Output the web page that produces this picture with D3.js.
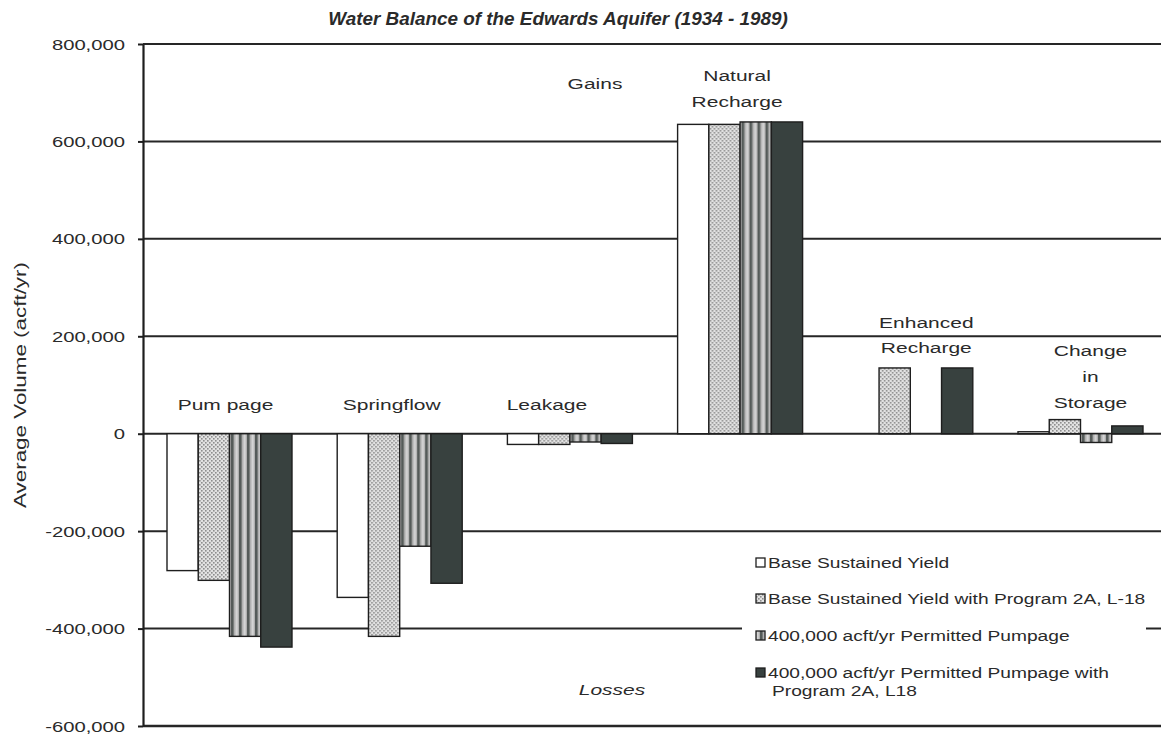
<!DOCTYPE html>
<html>
<head>
<meta charset="utf-8">
<script src="https://cdn.jsdelivr.net/npm/d3@7"></script>
<style>
  html, body { margin: 0; padding: 0; background: #ffffff; }
  svg { display: block; }
  text { font-family: "Liberation Sans", Arial, sans-serif; fill: #2a2a2a; }
</style>
</head>
<body>
<svg id="chart" width="1161" height="742"></svg>
<script>
// ---------------- DATA ----------------
const categories = ["Pumpage", "Springflow", "Leakage", "Natural Recharge", "Enhanced Recharge", "Change in Storage"];
const categoryLabels = [["Pum page"], ["Springflow"], ["Leakage"], ["Natural", "Recharge"], ["Enhanced", "Recharge"], ["Change", "in", "Storage"]];
const seriesNames = [
  "Base Sustained Yield",
  "Base Sustained Yield with Program 2A, L-18",
  "400,000 acft/yr Permitted Pumpage",
  "400,000 acft/yr Permitted Pumpage with Program 2A, L18"
];
const legendLines = [
  ["Base Sustained Yield"],
  ["Base Sustained Yield with Program 2A, L-18"],
  ["400,000 acft/yr Permitted Pumpage"],
  ["400,000 acft/yr Permitted Pumpage with", "Program 2A, L18"]
];
const baseSustainedYield      = [-281000, -336000, -22000, 635000,      0,   4000];
const baseWithProgram         = [-301000, -416000, -22000, 635000, 135000,  29000];
const permitted400k           = [-416000, -231000, -17000, 640000,      0, -18000];
const permitted400kWithProgram= [-438000, -307000, -20000, 640000, 135000,  16000];
const seriesValues = [baseSustainedYield, baseWithProgram, permitted400k, permitted400kWithProgram];
const yTicks = [-600000, -400000, -200000, 0, 200000, 400000, 600000, 800000];
const title = "Water Balance of the Edwards Aquifer (1934 - 1989)";
const yTitle = "Average Volume (acft/yr)";
const sideNotes = ["Gains", "Losses"];

// ---------------- LAYOUT ----------------
const svg = d3.select("#chart");
const plot = { left: 143, right: 1167, top: 44, bottom: 726 };
const SX = 1.4; // horizontal text stretch

const x0 = d3.scaleBand().domain(categories).range([plot.left, plot.right]).paddingInner(0.2656).paddingOuter(0.141);
const x1 = d3.scaleBand().domain(d3.range(seriesNames.length)).range([0, x0.bandwidth()]).padding(0);
const y = d3.scaleLinear().domain([-600000, 800000]).range([plot.bottom, plot.top]);

// patterns
const defs = svg.append("defs");
const pDots = defs.append("pattern").attr("id", "pat-dots").attr("patternUnits", "userSpaceOnUse").attr("width", 4).attr("height", 4);
pDots.append("rect").attr("width", 4).attr("height", 4).attr("fill", "#e2e2e2");
pDots.append("rect").attr("x", 0).attr("y", 0).attr("width", 1.6).attr("height", 1.6).attr("fill", "#8e8e8e");
pDots.append("rect").attr("x", 2).attr("y", 2).attr("width", 1.6).attr("height", 1.6).attr("fill", "#8e8e8e");
const pStr = defs.append("pattern").attr("id", "pat-stripes").attr("patternUnits", "userSpaceOnUse").attr("width", 8).attr("height", 8);
pStr.append("rect").attr("width", 8).attr("height", 8).attr("fill", "#b0b0b0");
pStr.append("rect").attr("x", 0).attr("width", 2.6).attr("height", 8).attr("fill", "#555b59");
pStr.append("rect").attr("x", 4.5).attr("width", 2.2).attr("height", 8).attr("fill", "#d4d4d4");

const fills = ["#ffffff", "url(#pat-dots)", "url(#pat-stripes)", "#38413f"];

function stretched(sel, x, yy, sx) {
  return sel.attr("x", 0).attr("y", 0).attr("transform", `translate(${x},${yy}) scale(${sx},1)`);
}

// gridlines
svg.append("g").selectAll("line").data(yTicks).join("line")
  .attr("x1", plot.left).attr("x2", plot.right)
  .attr("y1", d => y(d)).attr("y2", d => y(d))
  .attr("stroke", "#262626").attr("stroke-width", d => (d === -600000 ? 2.6 : 2));

// y axis
const fmt = d3.format(",");
const yAxis = svg.append("g").attr("transform", `translate(${plot.left},0)`)
  .call(d3.axisLeft(y).tickValues(yTicks).tickFormat(d => fmt(d).replace("\u2212", "-")).tickSize(5).tickSizeOuter(0));
yAxis.select(".domain").attr("stroke", "#1e1e1e").attr("stroke-width", 2.2);
yAxis.selectAll(".tick line").attr("stroke", "#1e1e1e").attr("stroke-width", 2);
yAxis.selectAll(".tick text").each(function () {
  const t = d3.select(this);
  t.attr("x", null).attr("dy", null).attr("fill", "#262626")
   .style("font-size", "15px").style("font-family", '"Liberation Sans", Arial, sans-serif')
   .attr("text-anchor", "end").attr("transform", `translate(-18,5) scale(1.35,1)`);
});

// bars
const groups = svg.append("g").selectAll("g").data(categories).join("g")
  .attr("transform", d => `translate(${x0(d)},0)`);
groups.selectAll("rect").data((c, ci) => seriesValues.map((vals, si) => ({ si, v: vals[ci] })).filter(d => d.v !== 0))
  .join("rect")
  .attr("x", d => x1(d.si))
  .attr("width", x1.bandwidth())
  .attr("y", d => Math.min(y(d.v), y(0)))
  .attr("height", d => Math.abs(y(d.v) - y(0)))
  .attr("fill", d => fills[d.si])
  .attr("stroke", "#1e1e1e").attr("stroke-width", 1.4);

// category labels
const labelPos = [
  { dx: -4, ys: [405] },
  { dx: -8, ys: [405] },
  { dx: -23, ys: [405] },
  { dx: -3, ys: [76, 102] },
  { dx: 16, ys: [323, 348] },
  { dx: 10, ys: [351, 377, 403] }
];
categories.forEach((c, i) => {
  const cx = x0(c) + x0.bandwidth() / 2 + labelPos[i].dx;
  categoryLabels[i].forEach((line, li) => {
    stretched(svg.append("text"), cx, labelPos[i].ys[li] + 5, SX)
      .attr("text-anchor", "middle").style("font-size", "15px").text(line);
  });
});

// gains / losses
stretched(svg.append("text"), 595, 89, SX).attr("text-anchor", "middle").style("font-size", "15px").attr("fill", "#4a4a4a").text(sideNotes[0]);
stretched(svg.append("text"), 612, 695, SX).attr("text-anchor", "middle").style("font-size", "15px").style("font-style", "italic").attr("fill", "#4a4a4a").text(sideNotes[1]);

// title
stretched(svg.append("text"), 558, 25, 1.05).attr("text-anchor", "middle")
  .style("font-size", "18px").style("font-weight", "bold").style("font-style", "italic").attr("fill", "#1a1a1a").text(title);

// y title
svg.append("text").attr("transform", `translate(26,385) rotate(-90) scale(1.4,1)`)
  .attr("text-anchor", "middle").style("font-size", "16px").text(yTitle);

// legend
const lg = svg.append("g");
lg.append("rect").attr("x", 742).attr("y", 540).attr("width", 404).attr("height", 176).attr("fill", "#ffffff");
const rowY = [563, 599, 636, 673];
legendLines.forEach((lines, i) => {
  lg.append("rect").attr("x", 756).attr("y", rowY[i] - 5).attr("width", 9).attr("height", 9)
    .attr("fill", fills[i]).attr("stroke", "#1e1e1e").attr("stroke-width", 1.3);
  lines.forEach((ln, li) => {
    stretched(lg.append("text"), li === 0 ? 768 : 772, rowY[i] + 5 + li * 18, 1.37)
      .style("font-size", "14px").text(ln);
  });
});
</script>
</body>
</html>
